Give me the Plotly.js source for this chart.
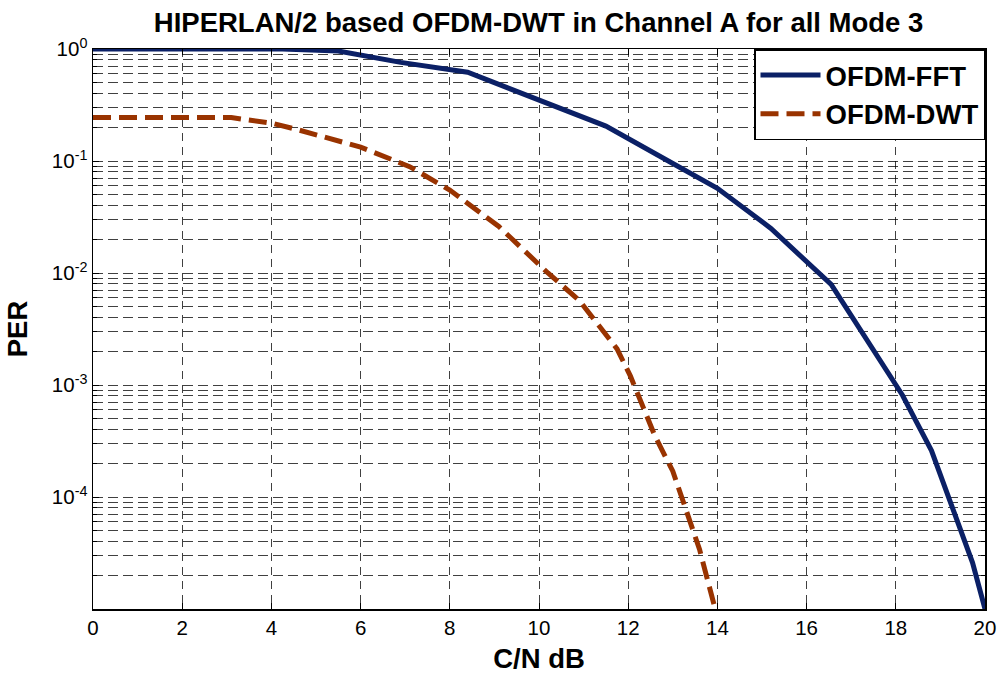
<!DOCTYPE html>
<html>
<head>
<meta charset="utf-8">
<script src="https://cdn.plot.ly/plotly-3.0.1.min.js"></script>
<style>
html, body { margin: 0; padding: 0; background: #ffffff; }
#chart { width: 1002px; height: 677px; }
</style>
</head>
<body>
<div id="chart"></div>
<script>
// C/N (dB) and PER values
const fftCN  = [0, 4.25, 5.5, 6.9, 8.4, 11.5, 12.9, 14.0, 15.2, 16.55, 18.15, 18.8, 19.72, 20];
const fftPER = [1.0, 1.0, 0.96, 0.76, 0.62, 0.205, 0.1, 0.057, 0.025, 0.0079, 8.1e-4, 2.6e-4, 2.6e-5, 1.0e-5];

const dwtCN  = [0, 3.1, 4.0, 4.6, 6.0, 7.1, 8.0, 9.1, 10.2, 10.9, 11.75, 12.05, 12.6, 13.0, 13.6, 13.95];
const dwtPER = [0.244, 0.244, 0.218, 0.19, 0.133, 0.089, 0.055, 0.026, 0.01, 0.0057, 0.0021, 0.0012, 3.5e-4, 1.7e-4, 3.4e-5, 1.0e-5];

const seriesNames = ["OFDM-FFT", "OFDM-DWT"];
const xTicks = [0, 2, 4, 6, 8, 10, 12, 14, 16, 18, 20];
const yTickVals = [1e-5, 1e-4, 1e-3, 1e-2, 1e-1, 1];
const yTickText = ["", "10<sup>-4</sup>", "10<sup>-3</sup>", "10<sup>-2</sup>", "10<sup>-1</sup>", "10<sup>0</sup>"];

const minorVals = [];
for (let e = -5; e < 0; e++) {
  for (let m = 2; m <= 9; m++) minorVals.push(m * Math.pow(10, e));
}

const gridCol = "rgba(0,0,0,0.75)";
const fontFam = "Liberation Sans, Arial, Helvetica, sans-serif";

const traces = [
  {
    x: fftCN, y: fftPER, name: "<b>" + seriesNames[0] + "</b>", type: "scatter", mode: "lines",
    line: { color: "#0b2066", width: 5 }
  },
  {
    x: dwtCN, y: dwtPER, name: "<b>" + seriesNames[1] + "</b>", type: "scatter", mode: "lines",
    line: { color: "#993300", width: 5, dash: "18px,8px" }
  }
];

const layout = {
  width: 1002, height: 677,
  paper_bgcolor: "#ffffff", plot_bgcolor: "#ffffff",
  margin: { l: 93, r: 17, t: 49, b: 68 },
  font: { family: fontFam, color: "#000000", size: 20 },
  title: {
    text: "<b>HIPERLAN/2 based OFDM-DWT in Channel A for all Mode 3</b>",
    font: { family: fontFam, size: 27.5, color: "#000" },
    x: 0.5375, xanchor: "center", y: 0.967, yanchor: "middle"
  },
  xaxis: {
    range: [0, 20],
    tickvals: xTicks,
    ticktext: xTicks.map(String),
    ticks: "inside", ticklen: 6, tickcolor: "#000",
    showline: true, linecolor: "#000", linewidth: 1.5, mirror: "allticks",
    showgrid: true, gridcolor: gridCol, gridwidth: 1, griddash: "8px,6px",
    zeroline: false,
    tickfont: { size: 20.5, family: fontFam },
    title: { text: "<b>C/N dB</b>", font: { size: 27.5, family: fontFam }, standoff: 10 }
  },
  yaxis: {
    type: "log",
    range: [-5, 0],
    tickvals: yTickVals,
    ticktext: yTickText,
    ticks: "inside", ticklen: 6, tickcolor: "#000",
    showline: true, linecolor: "#000", linewidth: 1.5, mirror: "allticks",
    showgrid: true, gridcolor: gridCol, gridwidth: 1, griddash: "10px,5px",
    zeroline: false,
    tickfont: { size: 20.5, family: fontFam },
    minor: {
      tickvals: minorVals, ticks: "inside", ticklen: 4, tickcolor: "#000",
      showgrid: true, gridcolor: gridCol, gridwidth: 1, griddash: "10px,5px"
    },
    title: { text: "<b>PER</b>", font: { size: 27.5, family: fontFam }, standoff: 16 }
  },
  legend: {
    x: 1, xanchor: "right", y: 1, yanchor: "top",
    bgcolor: "#ffffff", bordercolor: "#000", borderwidth: 1.5,
    font: { size: 27.5, family: fontFam, color: "#000" },
    itemwidth: 60
  },
  showlegend: true
};

Plotly.newPlot("chart", traces, layout, { displayModeBar: false, staticPlot: true });
</script>
</body>
</html>
